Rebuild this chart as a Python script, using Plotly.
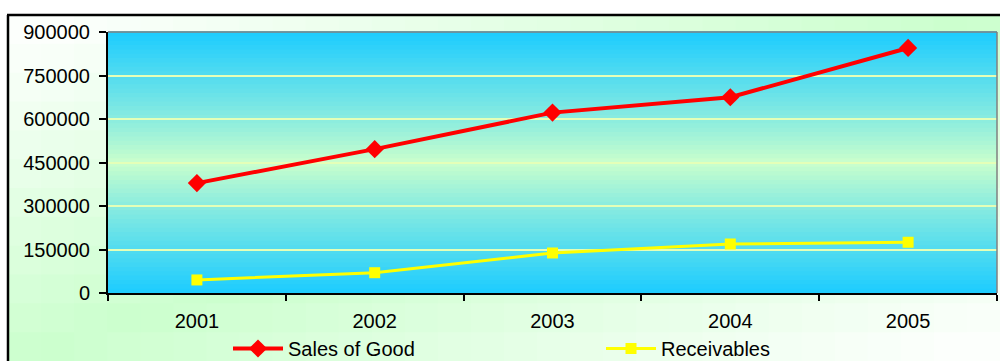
import plotly.graph_objects as go

years = ["2001", "2002", "2003", "2004", "2005"]
sales_of_good = [379000, 496000, 622000, 675000, 845000]
receivables = [45000, 70000, 138000, 169000, 175000]
y_ticks = [0, 150000, 300000, 450000, 600000, 750000, 900000]

W, H = 1000, 361
ML, MR, MT, MB = 108, 3, 32, 68
PW, PH = W - ML - MR, H - MT - MB


def px2x(px):
    return (px - ML) / PW


def py2y(py):
    return (H - MB - py) / PH


def mix(c1, c2, t):
    t = max(0.0, min(1.0, t))
    return "rgb(%d,%d,%d)" % tuple(round(a + (b - a) * t) for a, b in zip(c1, c2))


shapes = []
# outer chart-area gradient (diagonal: green along anti-diagonal, whiter at corners)
X0, X1, Y0, Y1 = 8, 1000, 15, 361
NC, NR = 30, 12
green = (204, 255, 206)
white = (252, 255, 252)
for i in range(NC):
    for j in range(NR):
        u = (i + 0.5) / NC
        v = (j + 0.5) / NR
        t = abs(u + v - 1.0)
        col = mix(green, white, t * 1.1)
        xa = X0 + (X1 - X0) * i / NC
        xb = X0 + (X1 - X0) * (i + 1) / NC
        ya = Y0 + (Y1 - Y0) * j / NR
        yb = Y0 + (Y1 - Y0) * (j + 1) / NR
        shapes.append(dict(type="rect", xref="paper", yref="paper",
                           x0=px2x(xa), x1=px2x(xb) + 0.002,
                           y0=py2y(yb) - 0.004, y1=py2y(ya),
                           fillcolor=col, line=dict(width=0), layer="below"))

# plot-area gradient: cyan at top and bottom, pale green in the middle
cyan = (28, 204, 255)
pale = (204, 255, 204)
NS = 60
for k in range(NS):
    v = (k + 0.5) / NS
    t = abs(v - 0.5) * 2
    col = mix(pale, cyan, t ** 0.9)
    shapes.append(dict(type="rect", xref="paper", yref="paper",
                       x0=0, x1=1, y0=k / NS, y1=(k + 1) / NS + 0.003,
                       fillcolor=col, line=dict(width=0), layer="below"))

# outer black border (left and top)
shapes.append(dict(type="line", xref="paper", yref="paper",
                   x0=px2x(8), x1=px2x(8), y0=py2y(365), y1=py2y(15),
                   line=dict(color="black", width=2.5), layer="above"))
shapes.append(dict(type="line", xref="paper", yref="paper",
                   x0=px2x(7), x1=px2x(1001), y0=py2y(15), y1=py2y(15),
                   line=dict(color="black", width=2.5), layer="above"))
# grey plot-area border top & right
shapes.append(dict(type="line", xref="paper", yref="paper",
                   x0=0, x1=1, y0=1, y1=1,
                   line=dict(color="#808080", width=1.5), layer="above"))
shapes.append(dict(type="line", xref="paper", yref="paper",
                   x0=1, x1=1, y0=0, y1=1,
                   line=dict(color="#808080", width=1.5), layer="above"))

font = dict(family="Liberation Sans, Arial, sans-serif", size=20, color="black")

fig = go.Figure()
fig.add_trace(go.Scatter(
    x=years, y=sales_of_good, name="Sales of Good", mode="lines+markers",
    line=dict(color="#ff0000", width=4),
    marker=dict(symbol="diamond", size=14, color="#ff0000"),
))
fig.add_trace(go.Scatter(
    x=years, y=receivables, name="Receivables", mode="lines+markers",
    line=dict(color="#ffff00", width=3),
    marker=dict(symbol="square", size=11, color="#ffff00"),
))

fig.update_layout(
    width=W, height=H,
    margin=dict(l=ML, r=MR, t=MT, b=MB, pad=0, autoexpand=False),
    paper_bgcolor="white",
    plot_bgcolor="rgba(0,0,0,0)",
    font=font,
    shapes=shapes,
    showlegend=True,
    legend=dict(
        orientation="h", x=px2x(228), xanchor="left",
        y=py2y(329), yanchor="top",
        bgcolor="rgba(0,0,0,0)", font=font,
        entrywidth=308, entrywidthmode="pixels",
        itemwidth=50, traceorder="normal",
    ),
    xaxis=dict(
        type="category", range=[-0.5, 4.5],
        tickson="boundaries", ticks="outside", ticklen=6, tickwidth=1.5,
        tickcolor="black", showline=True, linecolor="black", linewidth=2,
        showgrid=False, ticklabelstandoff=9, tickfont=font,
    ),
    yaxis=dict(
        range=[0, 900000], tickvals=y_ticks, ticktext=[str(v) for v in y_ticks],
        ticks="outside", ticklen=7, tickwidth=1.5, tickcolor="black",
        showline=True, linecolor="black", linewidth=2,
        showgrid=True, gridcolor="#e4ffb8", gridwidth=1.5,
        zeroline=False, ticklabelstandoff=5, tickfont=font,
    ),
)

fig.write_html("out.html")
